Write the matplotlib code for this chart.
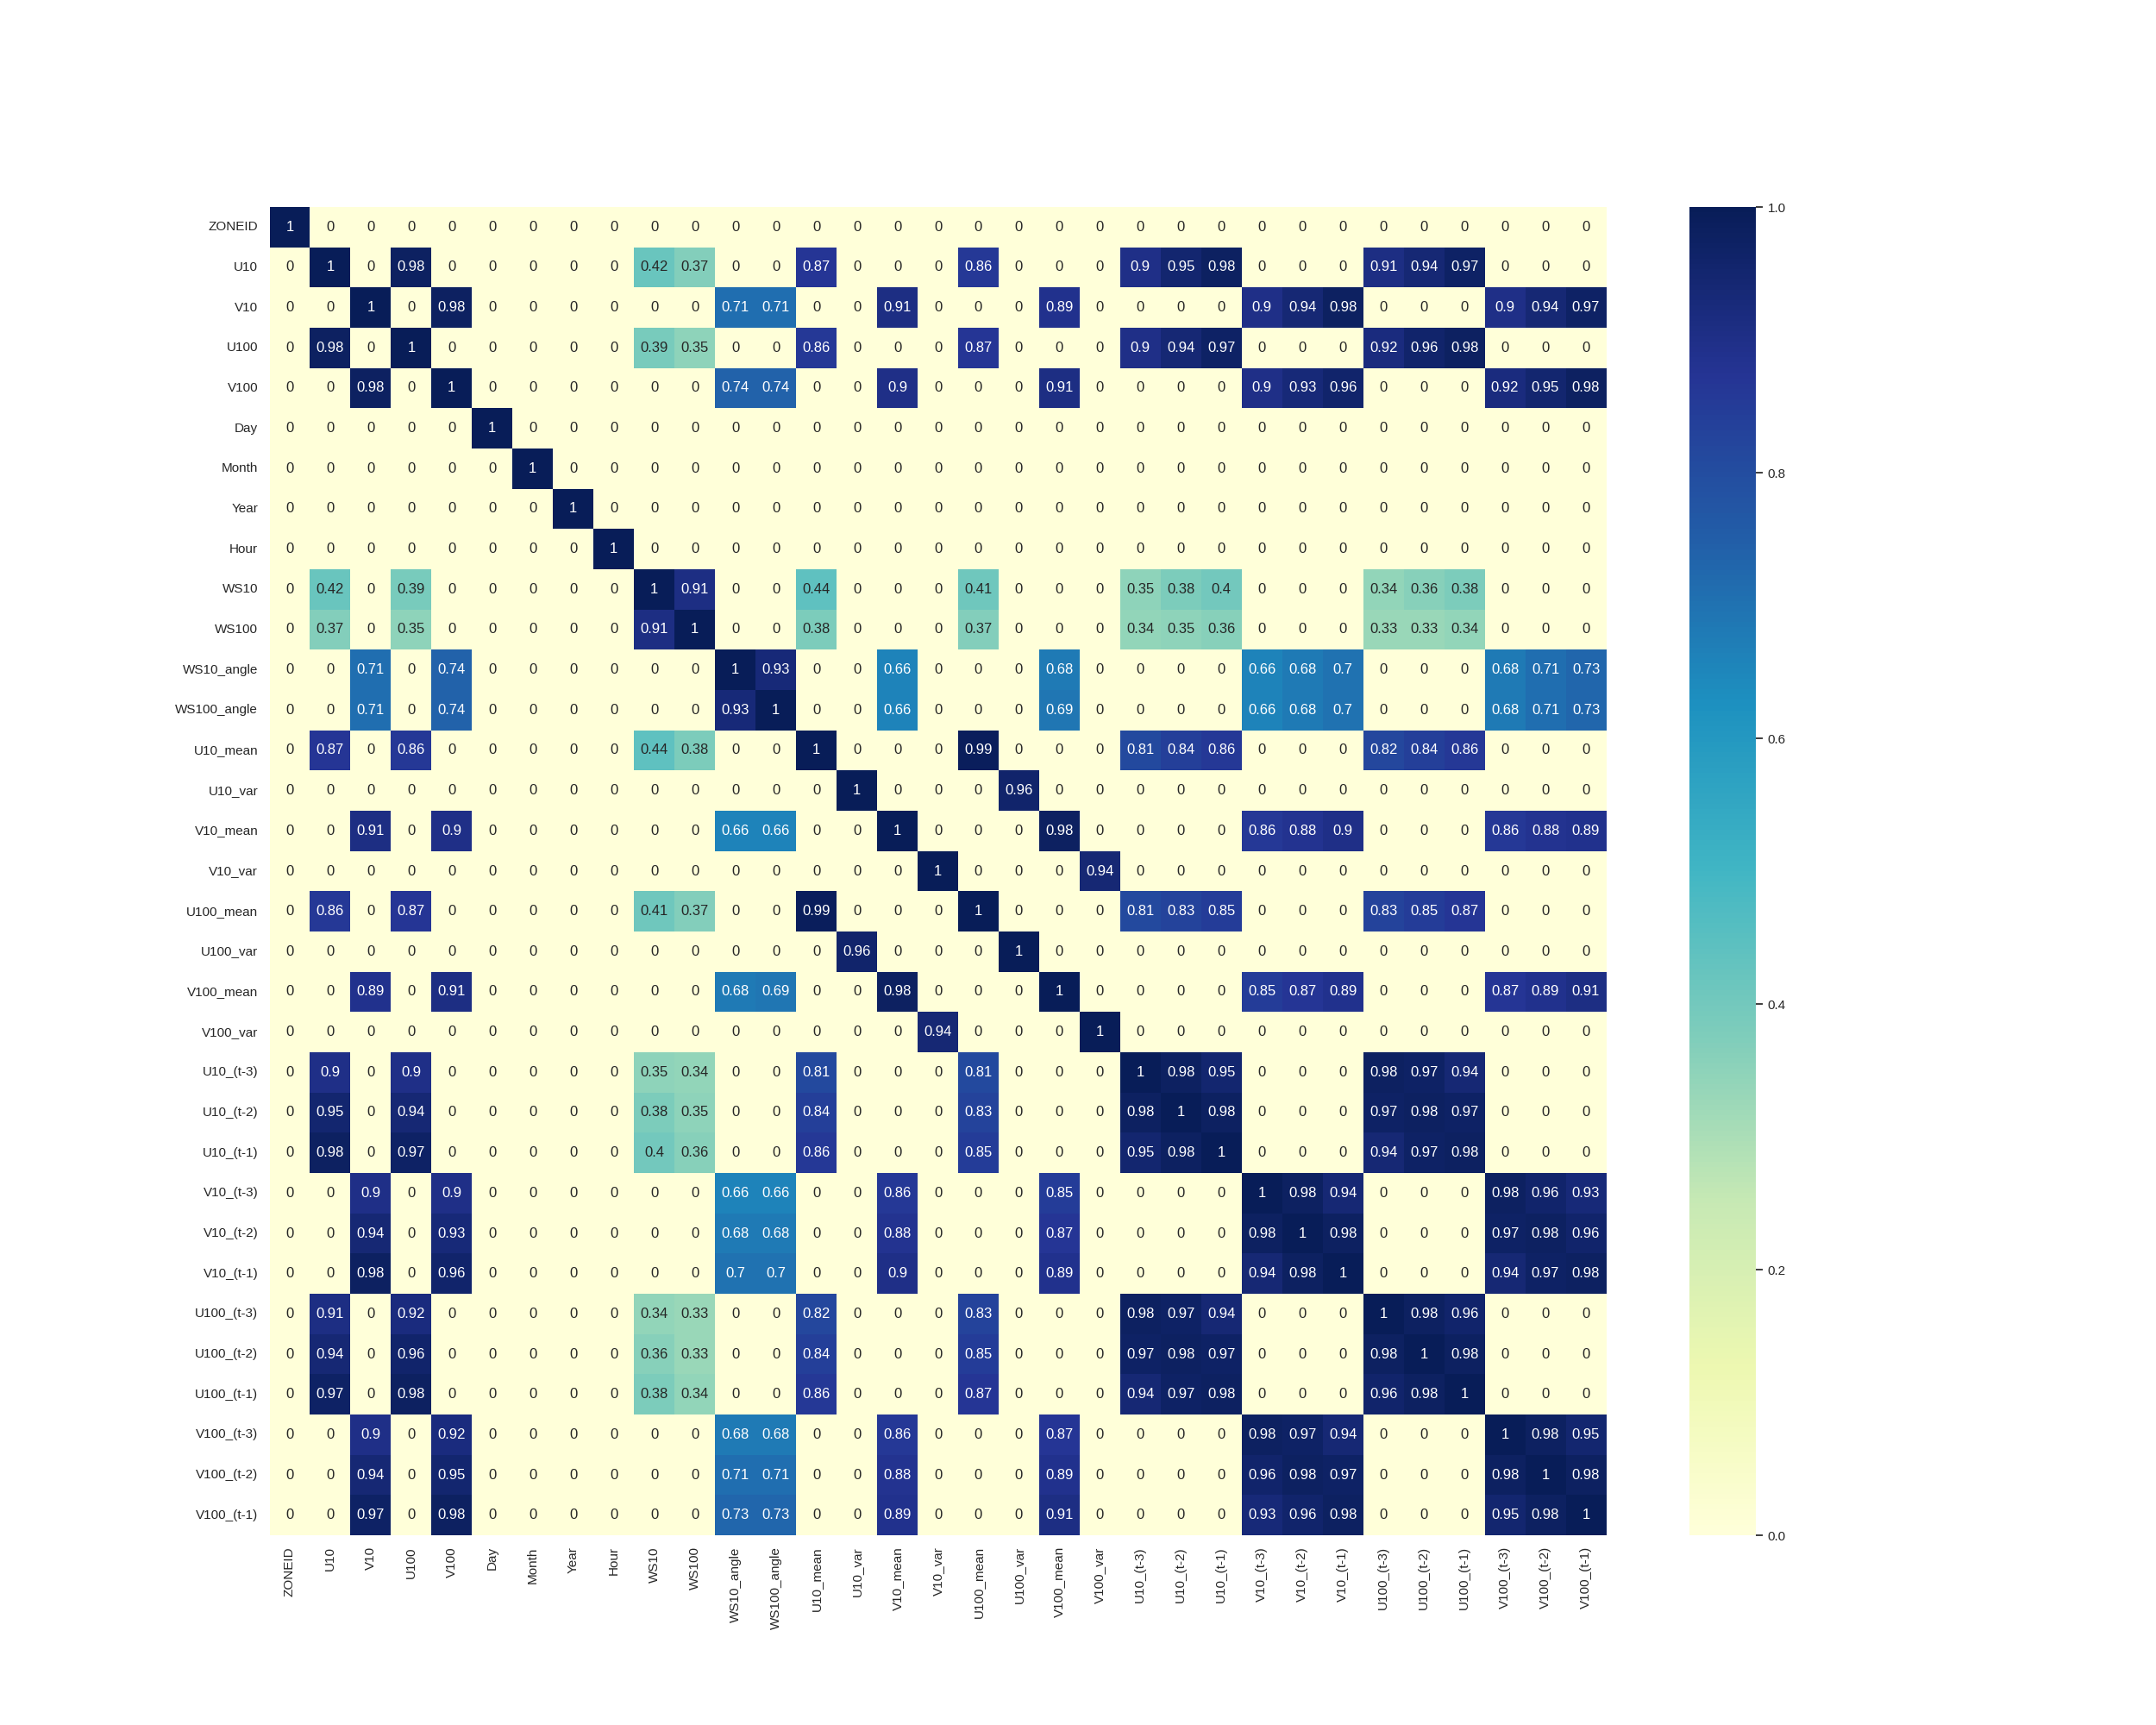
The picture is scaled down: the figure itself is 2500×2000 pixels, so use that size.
import numpy as np
import pandas as pd
import matplotlib
matplotlib.use("Agg")
import matplotlib.pyplot as plt
import seaborn as sns

sns.set_theme()
plt.rcParams['font.family'] = ['Liberation Sans', 'DejaVu Sans']

columnas = ['ZONEID', 'U10', 'V10', 'U100', 'V100', 'Day', 'Month', 'Year', 'Hour',
            'WS10', 'WS100', 'WS10_angle', 'WS100_angle', 'U10_mean', 'U10_var',
            'V10_mean', 'V10_var', 'U100_mean', 'U100_var', 'V100_mean', 'V100_var',
            'U10_(t-3)', 'U10_(t-2)', 'U10_(t-1)', 'V10_(t-3)', 'V10_(t-2)', 'V10_(t-1)',
            'U100_(t-3)', 'U100_(t-2)', 'U100_(t-1)', 'V100_(t-3)', 'V100_(t-2)', 'V100_(t-1)']

# matriz de correlación
corr = [
    [1, 0, 0, 0, 0, 0, 0, 0, 0, 0, 0, 0, 0, 0, 0, 0, 0, 0, 0, 0, 0, 0, 0, 0, 0, 0, 0, 0, 0, 0, 0, 0, 0],
    [0, 1, 0, .98, 0, 0, 0, 0, 0, .42, .37, 0, 0, .87, 0, 0, 0, .86, 0, 0, 0, .9, .95, .98, 0, 0, 0, .91, .94, .97, 0, 0, 0],
    [0, 0, 1, 0, .98, 0, 0, 0, 0, 0, 0, .71, .71, 0, 0, .91, 0, 0, 0, .89, 0, 0, 0, 0, .9, .94, .98, 0, 0, 0, .9, .94, .97],
    [0, .98, 0, 1, 0, 0, 0, 0, 0, .39, .35, 0, 0, .86, 0, 0, 0, .87, 0, 0, 0, .9, .94, .97, 0, 0, 0, .92, .96, .98, 0, 0, 0],
    [0, 0, .98, 0, 1, 0, 0, 0, 0, 0, 0, .74, .74, 0, 0, .9, 0, 0, 0, .91, 0, 0, 0, 0, .9, .93, .96, 0, 0, 0, .92, .95, .98],
    [0, 0, 0, 0, 0, 1, 0, 0, 0, 0, 0, 0, 0, 0, 0, 0, 0, 0, 0, 0, 0, 0, 0, 0, 0, 0, 0, 0, 0, 0, 0, 0, 0],
    [0, 0, 0, 0, 0, 0, 1, 0, 0, 0, 0, 0, 0, 0, 0, 0, 0, 0, 0, 0, 0, 0, 0, 0, 0, 0, 0, 0, 0, 0, 0, 0, 0],
    [0, 0, 0, 0, 0, 0, 0, 1, 0, 0, 0, 0, 0, 0, 0, 0, 0, 0, 0, 0, 0, 0, 0, 0, 0, 0, 0, 0, 0, 0, 0, 0, 0],
    [0, 0, 0, 0, 0, 0, 0, 0, 1, 0, 0, 0, 0, 0, 0, 0, 0, 0, 0, 0, 0, 0, 0, 0, 0, 0, 0, 0, 0, 0, 0, 0, 0],
    [0, .42, 0, .39, 0, 0, 0, 0, 0, 1, .91, 0, 0, .44, 0, 0, 0, .41, 0, 0, 0, .35, .38, .4, 0, 0, 0, .34, .36, .38, 0, 0, 0],
    [0, .37, 0, .35, 0, 0, 0, 0, 0, .91, 1, 0, 0, .38, 0, 0, 0, .37, 0, 0, 0, .34, .35, .36, 0, 0, 0, .33, .33, .34, 0, 0, 0],
    [0, 0, .71, 0, .74, 0, 0, 0, 0, 0, 0, 1, .93, 0, 0, .66, 0, 0, 0, .68, 0, 0, 0, 0, .66, .68, .7, 0, 0, 0, .68, .71, .73],
    [0, 0, .71, 0, .74, 0, 0, 0, 0, 0, 0, .93, 1, 0, 0, .66, 0, 0, 0, .69, 0, 0, 0, 0, .66, .68, .7, 0, 0, 0, .68, .71, .73],
    [0, .87, 0, .86, 0, 0, 0, 0, 0, .44, .38, 0, 0, 1, 0, 0, 0, .99, 0, 0, 0, .81, .84, .86, 0, 0, 0, .82, .84, .86, 0, 0, 0],
    [0, 0, 0, 0, 0, 0, 0, 0, 0, 0, 0, 0, 0, 0, 1, 0, 0, 0, .96, 0, 0, 0, 0, 0, 0, 0, 0, 0, 0, 0, 0, 0, 0],
    [0, 0, .91, 0, .9, 0, 0, 0, 0, 0, 0, .66, .66, 0, 0, 1, 0, 0, 0, .98, 0, 0, 0, 0, .86, .88, .9, 0, 0, 0, .86, .88, .89],
    [0, 0, 0, 0, 0, 0, 0, 0, 0, 0, 0, 0, 0, 0, 0, 0, 1, 0, 0, 0, .94, 0, 0, 0, 0, 0, 0, 0, 0, 0, 0, 0, 0],
    [0, .86, 0, .87, 0, 0, 0, 0, 0, .41, .37, 0, 0, .99, 0, 0, 0, 1, 0, 0, 0, .81, .83, .85, 0, 0, 0, .83, .85, .87, 0, 0, 0],
    [0, 0, 0, 0, 0, 0, 0, 0, 0, 0, 0, 0, 0, 0, .96, 0, 0, 0, 1, 0, 0, 0, 0, 0, 0, 0, 0, 0, 0, 0, 0, 0, 0],
    [0, 0, .89, 0, .91, 0, 0, 0, 0, 0, 0, .68, .69, 0, 0, .98, 0, 0, 0, 1, 0, 0, 0, 0, .85, .87, .89, 0, 0, 0, .87, .89, .91],
    [0, 0, 0, 0, 0, 0, 0, 0, 0, 0, 0, 0, 0, 0, 0, 0, .94, 0, 0, 0, 1, 0, 0, 0, 0, 0, 0, 0, 0, 0, 0, 0, 0],
    [0, .9, 0, .9, 0, 0, 0, 0, 0, .35, .34, 0, 0, .81, 0, 0, 0, .81, 0, 0, 0, 1, .98, .95, 0, 0, 0, .98, .97, .94, 0, 0, 0],
    [0, .95, 0, .94, 0, 0, 0, 0, 0, .38, .35, 0, 0, .84, 0, 0, 0, .83, 0, 0, 0, .98, 1, .98, 0, 0, 0, .97, .98, .97, 0, 0, 0],
    [0, .98, 0, .97, 0, 0, 0, 0, 0, .4, .36, 0, 0, .86, 0, 0, 0, .85, 0, 0, 0, .95, .98, 1, 0, 0, 0, .94, .97, .98, 0, 0, 0],
    [0, 0, .9, 0, .9, 0, 0, 0, 0, 0, 0, .66, .66, 0, 0, .86, 0, 0, 0, .85, 0, 0, 0, 0, 1, .98, .94, 0, 0, 0, .98, .96, .93],
    [0, 0, .94, 0, .93, 0, 0, 0, 0, 0, 0, .68, .68, 0, 0, .88, 0, 0, 0, .87, 0, 0, 0, 0, .98, 1, .98, 0, 0, 0, .97, .98, .96],
    [0, 0, .98, 0, .96, 0, 0, 0, 0, 0, 0, .7, .7, 0, 0, .9, 0, 0, 0, .89, 0, 0, 0, 0, .94, .98, 1, 0, 0, 0, .94, .97, .98],
    [0, .91, 0, .92, 0, 0, 0, 0, 0, .34, .33, 0, 0, .82, 0, 0, 0, .83, 0, 0, 0, .98, .97, .94, 0, 0, 0, 1, .98, .96, 0, 0, 0],
    [0, .94, 0, .96, 0, 0, 0, 0, 0, .36, .33, 0, 0, .84, 0, 0, 0, .85, 0, 0, 0, .97, .98, .97, 0, 0, 0, .98, 1, .98, 0, 0, 0],
    [0, .97, 0, .98, 0, 0, 0, 0, 0, .38, .34, 0, 0, .86, 0, 0, 0, .87, 0, 0, 0, .94, .97, .98, 0, 0, 0, .96, .98, 1, 0, 0, 0],
    [0, 0, .9, 0, .92, 0, 0, 0, 0, 0, 0, .68, .68, 0, 0, .86, 0, 0, 0, .87, 0, 0, 0, 0, .98, .97, .94, 0, 0, 0, 1, .98, .95],
    [0, 0, .94, 0, .95, 0, 0, 0, 0, 0, 0, .71, .71, 0, 0, .88, 0, 0, 0, .89, 0, 0, 0, 0, .96, .98, .97, 0, 0, 0, .98, 1, .98],
    [0, 0, .97, 0, .98, 0, 0, 0, 0, 0, 0, .73, .73, 0, 0, .89, 0, 0, 0, .91, 0, 0, 0, 0, .93, .96, .98, 0, 0, 0, .95, .98, 1],
]

df_corr = pd.DataFrame(np.array(corr, dtype=float), index=columnas, columns=columnas)

fig, ax = plt.subplots(figsize=(25, 20))
sns.heatmap(df_corr, annot=True, cmap='YlGnBu', ax=ax)

plt.savefig('out.png', dpi=100)
